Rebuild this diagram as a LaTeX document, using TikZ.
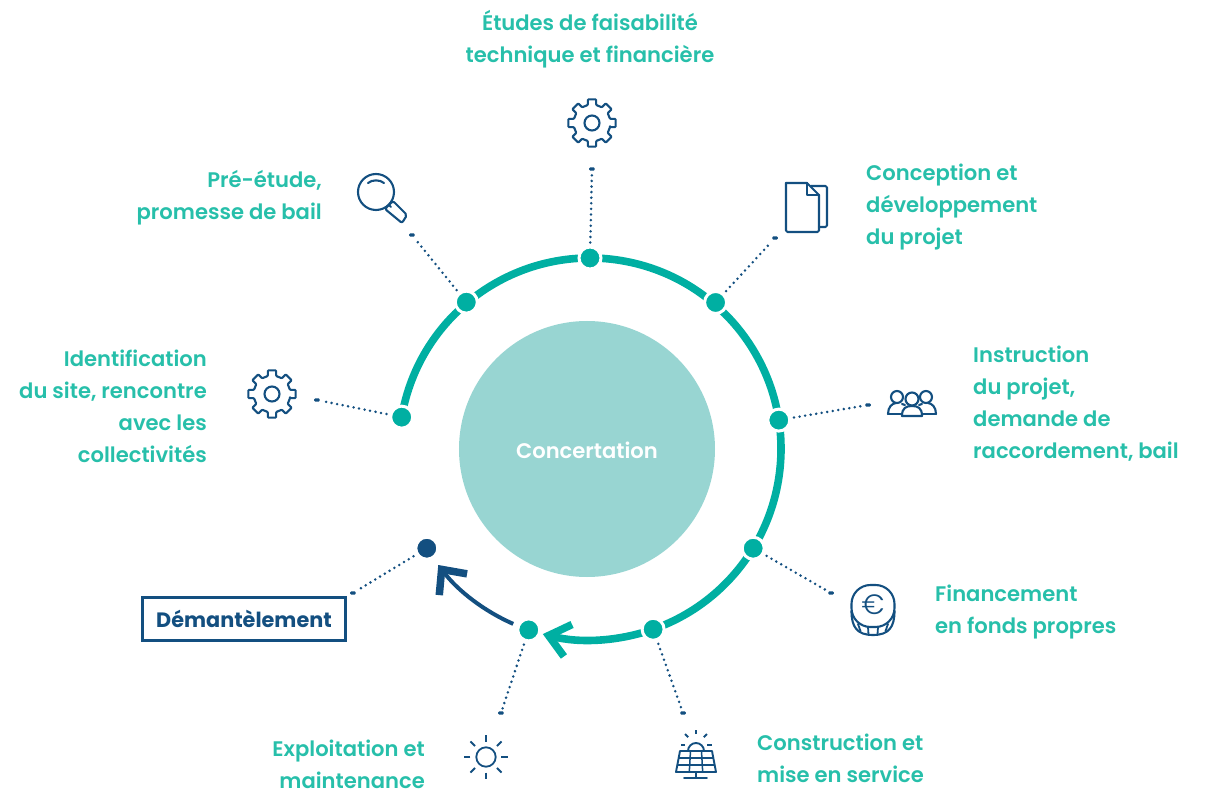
\documentclass[tikz,border=0pt]{standalone}
\usepackage{fontspec}
\setmainfont{Poppins}[UprightFont=* SemiBold,BoldFont=* Bold]
\newfontfamily\eurofont{Poppins Light}
\usetikzlibrary{arrows.meta}
\definecolor{ringteal}{HTML}{00AFA2}
\definecolor{labelteal}{HTML}{27BFAA}
\definecolor{discteal}{HTML}{98D5D2}
\definecolor{iconblue}{HTML}{134F80}
\begin{document}
\begin{tikzpicture}[
    x=1pt, y=1pt,
  stepdot/.style={circle, fill=ringteal, draw=white, line width=3pt, minimum size=22pt, inner sep=0pt},
  lastdot/.style={stepdot, fill=iconblue},
  leaderend/.style={rectangle, fill=iconblue, rounded corners=1pt, minimum width=5.5pt, minimum height=3.2pt, inner sep=0pt},
  leader/.style={iconblue, line width=2.8pt, line cap=round, dash pattern=on 0pt off 5.6pt, shorten <=3pt, shorten >=3pt},
  ringarc/.style={ringteal, line width=7.6pt},
  steplabel/.style={text=labelteal, font=\fontsize{21.1}{32}\selectfont, inner sep=0pt},
  iconline/.style={iconblue, line width=2.1pt, line join=round, line cap=round},
  gearicon/.pic={
    \draw[iconline, rounded corners=.8pt] (-13:18.5)
      \foreach \a in {0,45,...,315} {-- (\a-13:18.5) -- (\a-10:24) -- (\a+10:24) -- (\a+13:18.5)} -- cycle;
    \draw[iconline] (0,0) circle (7.5);
  },
  loupeicon/.pic={
    \draw[iconline] (0,0) circle (18);
    \draw[iconline] (-8,9) .. controls (-4,12.5) and (4,12.5) .. (8,9);
    \draw[iconline] (12.7,-12.7) -- (15,-15);
    \draw[iconline, rounded corners=2pt] (9,-17) -- (17,-9) -- (31,-23) -- (26,-31) -- cycle;
  },
  docicon/.pic={
    \draw[iconline, rounded corners=1.5pt] (0,0) -- (0,-49) -- (33,-49) -- (33,-12);
    \draw[iconline] (33,-12) -- (21,0) -- (0,0);
    \draw[iconline] (21,0) -- (21,-12) -- (33,-12);
    \draw[iconline, rounded corners=1.5pt] (25,-3) -- (41,-3) -- (41,-44) -- (33,-44);
  },
  peopleicon/.pic={
    \draw[iconline] (-15,8) circle (6);
    \draw[iconline] (14,8) circle (6);
    \draw[iconline] (-24,-9) -- (-10,-9);
    \draw[iconline] (-24,-9) .. controls (-24,-2) and (-20,1.5) .. (-16,2) (-10,1) -- (-7,0);
    \draw[iconline] (10,-9) -- (24,-9);
    \draw[iconline] (24,-9) .. controls (24,-2) and (20,1.5) .. (16,2) (10,1) -- (7,0);
    \draw[iconline, fill=white] (0,6) circle (6.5);
    \draw[iconline, fill=white] (-10,-11) .. controls (-10,-3) and (-6,-1) .. (0,-1) .. controls (6,-1) and (10,-3) .. (10,-11) -- cycle;
  },
  coinicon/.pic={
    \draw[iconline, rounded corners=19pt] (-21.5,-22) rectangle (21.5,20);
    \draw[iconline] (-21.5,-6) .. controls (-21.5,-22) and (-16,-30) .. (0,-30) .. controls (16,-30) and (21.5,-22) .. (21.5,-6);
    \draw[iconline, line width=1.8pt] (-15,-19) -- (-12.5,-26) (-5,-22) -- (-4.5,-29.5) (5,-22) -- (4.5,-29.5) (15,-19) -- (12.5,-26);
  },
  sunicon/.pic={
    \draw[iconline, line width=1.8pt] (0,0) circle (9.7);
    \foreach \a in {0,45,...,315}
      \draw[iconline, line width=1.8pt, line cap=butt] (\a:15.5) -- (\a:22);
  },
  solaricon/.pic={
    \draw[iconline, line width=1.9pt] (-8,-6) arc (180:0:8);
    \foreach \a in {0,45,90,135,180}
      \draw[iconline, line width=1.9pt, line cap=butt] (\a:11) -- (\a:15.5);
    \draw[iconline, line width=1.9pt] (-16,-6) -- (16,-6) -- (20,-27) -- (-20,-27) -- cycle;
    \draw[iconline, line width=1.5pt] (-17.3,-13) -- (17.3,-13) (-18.6,-20) -- (18.6,-20);
    \draw[iconline, line width=1.5pt] (-5.5,-6) -- (-6.7,-27) (5.5,-6) -- (6.7,-27);
    \draw[iconline, line width=1.9pt] (0,-27) -- (0,-33) (-12,-33) -- (11,-33);
  }
]
\useasboundingbox (-590,-343) rectangle (615,449);

% Centre disc
\node[circle, fill=discteal, minimum size=256pt, inner sep=0pt] (centre) at (-3,0) {};
\node[steplabel, text=white] (centrelabel) at (-3,-1.5) {Concertation};

% Ring
\draw[ringarc] (170.4:191) arc (170.4:-70.7:191);
\draw[ringarc, -{Straight Barb[length=20pt, width=33pt]}] (-70.7:191) arc (-70.7:-104.3:191);
\draw[iconblue, line width=4pt, -{Straight Barb[length=19pt, width=35pt, line width=7.5pt]}] (246.3:191) arc (246.3:217.4:191);

% Step dots
\node[stepdot] (site) at (170.4:191) {};
\node[stepdot] (bail) at (130.1:192) {};
\node[stepdot] (etudes) at (90:191) {};
\node[stepdot] (conception) at (49.4:193) {};
\node[stepdot] (instruction) at (8.7:191) {};
\node[stepdot] (fonds) at (-31.3:191) {};
\node[stepdot] (construction) at (-70.7:191) {};
\node[stepdot] (exploitation) at (-108.7:191) {};
\node[lastdot] (demantelement) at (211.3:191) {};

% Leader ends
\node[leaderend] (siteend) at (-273,49) {};
\node[leaderend] (bailend) at (-178,214) {};
\node[leaderend] (etudesend) at (2,280) {};
\node[leaderend] (conceptionend) at (185,211) {};
\node[leaderend] (instructionend) at (278,44) {};
\node[leaderend] (fondsend) at (241,-144) {};
\node[leaderend] (constructionend) at (93,-264) {};
\node[leaderend] (exploitationend) at (-89,-264) {};
\node[leaderend] (demantelementend) at (-237,-144) {};

% Leaders
\draw[leader] (site) -- (siteend);
\draw[leader] (bail) -- (bailend);
\draw[leader] (etudes) -- (etudesend);
\draw[leader] (conception) -- (conceptionend);
\draw[leader] (instruction) -- (instructionend);
\draw[leader] (fonds) -- (fondsend);
\draw[leader] (construction) -- (constructionend);
\draw[leader] (exploitation) -- (exploitationend);
\draw[leader] (demantelement) -- (demantelementend);

% Icons
\pic at (2,326) {gearicon};
\pic at (-318,55) {gearicon};
\pic at (-214,257) {loupeicon};
\pic at (196,266) {docicon};
\pic at (322,44) {peopleicon};
\pic at (283,-156) {coinicon};
\node[text=iconblue, font=\eurofont\fontsize{28}{28}\selectfont, inner sep=0pt] (euro) at (283,-156) {€};
\pic at (106,-296) {solaricon};
\pic at (-104,-308) {sunicon};

% Labels
\node[steplabel, align=center] (etudeslabel) at (0,410) {Études de faisabilité\\technique et financière};
\node[steplabel, align=left, anchor=west] (conceptionlabel) at (276,242) {Conception et\\développement\\du projet};
\node[steplabel, align=left, anchor=west] (instructionlabel) at (383,45) {Instruction\\du projet,\\demande de\\raccordement, bail};
\node[steplabel, align=left, anchor=west] (fondslabel) at (345,-163) {Financement\\en fonds propres};
\node[steplabel, align=left, anchor=west] (constructionlabel) at (167,-309) {Construction et\\mise en service};
\node[steplabel, align=right, anchor=east] (exploitationlabel) at (-165,-315) {Exploitation et\\maintenance};
\node[steplabel, align=right, anchor=east] (sitelabel) at (-383,43) {Identification\\du site, rencontre\\avec les\\collectivités};
\node[steplabel, align=right, anchor=east] (baillabel) at (-268,251) {Pré-étude,\\promesse de bail};
\node[draw=iconblue, line width=2.5pt, text=iconblue, font=\fontsize{20.8}{32}\bfseries\selectfont, minimum width=203pt, minimum height=43pt, inner sep=0pt] (demantelementlabel) at (-346,-170) {Démantèlement};

\end{tikzpicture}
\end{document}
